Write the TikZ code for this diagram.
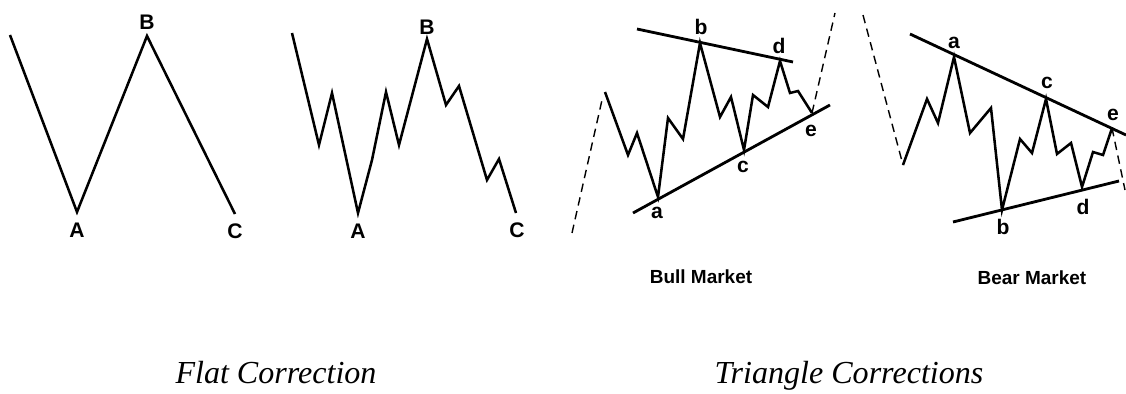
\documentclass[tikz,border=0pt]{standalone}
\usepackage{fontspec}
\setmainfont{Liberation Serif}
\newfontfamily\markfont{Liberation Sans}

\tikzset{
  wave/.style={line width=1.8pt, line join=miter},
  trend/.style={line width=2pt},
  lead/.style={line width=1pt, dash pattern=on 6pt off 4pt},
  tag/.style={font=\markfont\bfseries\fontsize{15}{15}\selectfont, inner sep=0pt},
  market/.style={font=\markfont\bfseries\fontsize{13.5}{14}\selectfont, inner sep=0pt},
  caption/.style={font=\itshape\fontsize{22.8}{26}\selectfont, inner sep=0pt, anchor=base},
}

\begin{document}
\begin{tikzpicture}[x=0.025cm, y=-0.025cm]
    \useasboundingbox (0,0) rectangle (1126,394);

    % Flat correction, simple
    \coordinate (s1) at (10,35);
    \coordinate (A1) at (77,212);
    \coordinate (B1) at (147,36);
    \coordinate (C1) at (235,214);
    \draw[wave] (s1) -- (A1) -- (B1) -- (C1);
    \node[tag] (lA1) at (77,230) {A};
    \node[tag] (lB1) at (147,22) {B};
    \node[tag] (lC1) at (235,231) {C};

    % Flat correction, subdivided
    \coordinate (s2) at (292,33);
    \coordinate (A2) at (358,213);
    \coordinate (B2) at (427,39);
    \coordinate (C2) at (516,213);
    \draw[wave] (s2) -- (319,145) -- (332,93) -- (A2)
        -- (372,160) -- (386,92) -- (399,145) -- (B2)
        -- (446,105) -- (459,86) -- (487,180) -- (499,159) -- (C2);
    \node[tag] (lA2) at (358,231) {A};
    \node[tag] (lB2) at (427,27) {B};
    \node[tag] (lC2) at (517,230) {C};

    % Bull market triangle
    \coordinate (in3) at (572,233);
    \coordinate (s3) at (605,92);
    \coordinate (a3) at (658,197);
    \coordinate (b3) at (700,43);
    \coordinate (c3) at (744,150);
    \coordinate (d3) at (780,61);
    \coordinate (e3) at (812,113);
    \coordinate (out3) at (835,13);
    \draw[lead] (in3) -- (602,100);
    \draw[lead] (e3) -- (out3);
    \draw[wave] (s3) -- (628,155) -- (637,133) -- (a3)
        -- (668,118) -- (683,139) -- (b3)
        -- (720,117) -- (731,97) -- (c3)
        -- (753,95) -- (768,107) -- (d3)
        -- (790,93) -- (798,91) -- (e3);
    \draw[trend] (637,29) -- (793,62);
    \draw[trend] (633,213) -- (830,105);
    \node[tag] (la3) at (657,213) {a};
    \node[tag] (lb3) at (701,27) {b};
    \node[tag] (lc3) at (743,167) {c};
    \node[tag] (ld3) at (779,46) {d};
    \node[tag] (le3) at (811,131) {e};
    \node[market] (bull) at (701,277) {Bull Market};

    % Bear market triangle
    \coordinate (in4) at (863,15);
    \coordinate (s4) at (903,165);
    \coordinate (a4) at (954,57);
    \coordinate (b4) at (1002,210);
    \coordinate (c4) at (1046,99);
    \coordinate (d4) at (1082,187);
    \coordinate (e4) at (1112,128);
    \coordinate (out4) at (1125,190);
    \draw[lead] (in4) -- (s4);
    \draw[lead] (e4) -- (out4);
    \draw[wave] (s4) -- (927,99) -- (938,123) -- (a4)
        -- (970,133) -- (991,108) -- (b4)
        -- (1020,139) -- (1032,153) -- (c4)
        -- (1057,154) -- (1071,143) -- (d4)
        -- (1093,152) -- (1103,155) -- (e4);
    \draw[trend] (910,34) -- (1126,135);
    \draw[trend] (953,222) -- (1119,181);
    \node[tag] (la4) at (954,43) {a};
    \node[tag] (lb4) at (1003,227) {b};
    \node[tag] (lc4) at (1047,83) {c};
    \node[tag] (ld4) at (1083,207) {d};
    \node[tag] (le4) at (1113,115) {e};
    \node[market] (bear) at (1032,278) {Bear Market};

    % Captions
    \node[caption] (flat) at (276,383) {Flat Correction};
    \node[caption] (tri) at (849,383) {Triangle Corrections};
\end{tikzpicture}
\end{document}
